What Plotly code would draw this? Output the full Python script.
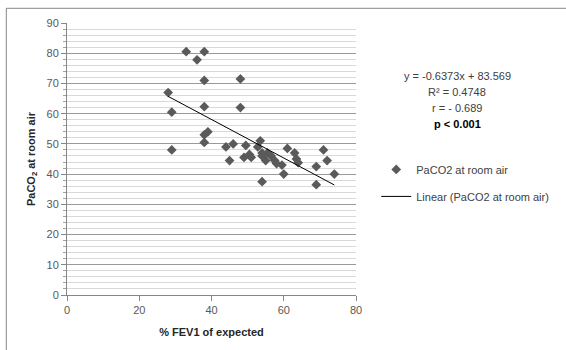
import plotly.graph_objects as go

# Data
fev1 = [28, 29, 29, 33, 36, 38, 38, 38, 38, 38, 39, 44, 45, 46, 48, 48,
        49, 49.5, 50.5, 51, 52.8, 53.5, 54, 54, 54, 55, 55.5, 56.5, 57.5,
        58, 59.5, 60, 61, 63, 63.5, 64, 69, 69, 71, 72, 74]
paco2 = [67, 60.5, 48, 80.5, 77.8, 80.5, 71, 62.3, 53, 50.5, 54, 49, 44.5, 50, 71.5, 62,
         45.5, 49.5, 46.5, 45.5, 49, 51, 37.5, 47, 46, 44.5, 47, 46, 44.5,
         43.5, 43, 40, 48.5, 47, 45, 43.8, 42.5, 36.5, 48, 44.5, 40]

slope = -0.6373
intercept = 83.569
stats_lines = ["y = -0.6373x + 83.569", "R\u00b2 = 0.4748", "r = - 0.689", "<b>p < 0.001</b>"]

x_ticks = [0, 20, 40, 60, 80]
y_ticks = [0, 10, 20, 30, 40, 50, 60, 70, 80, 90]

FONT = "Liberation Sans"
TXT = "#404040"

x_line = [min(fev1), max(fev1)]
y_line = [slope * v + intercept for v in x_line]

fig = go.Figure()
fig.add_trace(go.Scatter(
    x=fev1, y=paco2, mode="markers", name="PaCO2 at room air",
    marker=dict(symbol="diamond", size=7.5, color="#5a5a5a"),
    legendgroup="a"))
fig.add_trace(go.Scatter(
    x=x_line, y=y_line, mode="lines", name="Linear (PaCO2 at room air)",
    line=dict(color="black", width=1), legendgroup="b"))

fig.update_layout(
    width=566, height=350,
    margin=dict(l=67, r=207, t=23, b=55),
    paper_bgcolor="white", plot_bgcolor="white",
    font=dict(family=FONT, size=11, color=TXT),
    showlegend=True,
    legend=dict(x=1.07, y=0.515, xanchor="left", yanchor="top",
                font=dict(size=11, color=TXT), traceorder="grouped",
                tracegroupgap=8, bgcolor="rgba(0,0,0,0)", itemwidth=30),
    xaxis=dict(range=[0, 80], tickvals=x_ticks, showgrid=False,
               showline=True, linecolor="#868686", linewidth=1,
               ticks="outside", ticklen=5, tickcolor="#868686",
               zeroline=False, tickfont=dict(size=11, color="#595959"),
               title=dict(text="<b>% FEV1 of expected</b>", font=dict(size=11, color="#262626"),
                          standoff=13)),
    yaxis=dict(range=[0, 90], tickvals=y_ticks, showgrid=True,
               gridcolor="#9a9a9a", gridwidth=1,
               showline=True, linecolor="#868686", linewidth=1,
               ticks="outside", ticklen=5, tickcolor="#868686",
               zeroline=False, tickfont=dict(size=11, color="#595959"),
               minor=dict(dtick=2, showgrid=True, gridcolor="#d9d9d9",
                          ticks="outside", ticklen=3, tickcolor="#a0a0a0"),
               title=dict(text="<b>PaCO<sub>2</sub> at room air</b>",
                          font=dict(size=11, color="#262626"), standoff=8)),
)

# statistics text box
for i, t in enumerate(stats_lines):
    fig.add_annotation(xref="paper", yref="paper", x=1.35, y=(295 - 76 - 16 * i) / 272,
                       text=t, showarrow=False, xanchor="center", yanchor="middle",
                       font=dict(size=11, color="black" if i == 3 else TXT, family=FONT))

# chart-area frame (only left and top edges fall inside the picture)
fig.add_shape(type="rect", xref="paper", yref="paper", x0=-0.21, x1=1.85,
              y0=-0.35, y1=1.054, line=dict(color="#868686", width=1),
              fillcolor="rgba(0,0,0,0)", layer="below")

fig.write_html("out.html", config={"displayModeBar": False},
               post_script="document.body.style.margin='0px';")
